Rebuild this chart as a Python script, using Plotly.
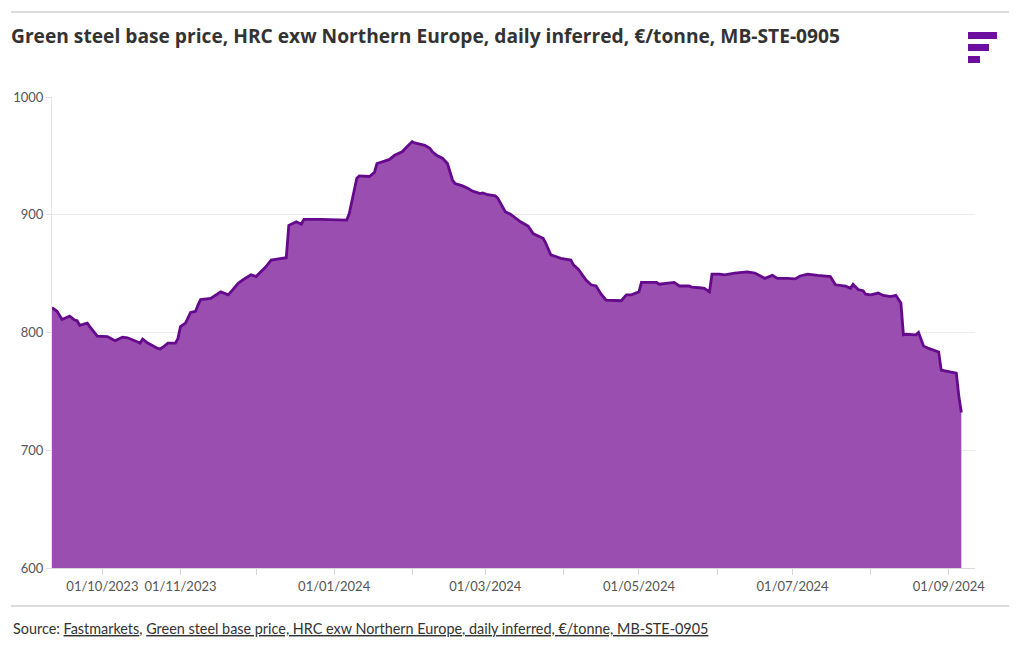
import plotly.graph_objects as go

# ---- data ----
dates = [
    "2023-09-11", "2023-09-13", "2023-09-15", "2023-09-18", "2023-09-20", "2023-09-21",
    "2023-09-22", "2023-09-25", "2023-09-26", "2023-09-29", "2023-10-03", "2023-10-06",
    "2023-10-09", "2023-10-11", "2023-10-15", "2023-10-16", "2023-10-17", "2023-10-19",
    "2023-10-23", "2023-10-24", "2023-10-25", "2023-10-27", "2023-10-30", "2023-10-31",
    "2023-11-01", "2023-11-03", "2023-11-05", "2023-11-07", "2023-11-08", "2023-11-09",
    "2023-11-13", "2023-11-15", "2023-11-17", "2023-11-20", "2023-11-22", "2023-11-24",
    "2023-11-26", "2023-11-28", "2023-11-29", "2023-12-01", "2023-12-03", "2023-12-05",
    "2023-12-07", "2023-12-10", "2023-12-13", "2023-12-14", "2023-12-15", "2023-12-17",
    "2023-12-19", "2023-12-20", "2023-12-27", "2024-01-01", "2024-01-06", "2024-01-07",
    "2024-01-09", "2024-01-10", "2024-01-11", "2024-01-15", "2024-01-17", "2024-01-18",
    "2024-01-21", "2024-01-23", "2024-01-25", "2024-01-28", "2024-01-30", "2024-02-01",
    "2024-02-02", "2024-02-06", "2024-02-08", "2024-02-09", "2024-02-11", "2024-02-13",
    "2024-02-15", "2024-02-17", "2024-02-18", "2024-02-21", "2024-02-23", "2024-02-25",
    "2024-02-28", "2024-02-29", "2024-03-02", "2024-03-05", "2024-03-06", "2024-03-09",
    "2024-03-11", "2024-03-12", "2024-03-15", "2024-03-18", "2024-03-20", "2024-03-22",
    "2024-03-24", "2024-03-25", "2024-03-27", "2024-03-29", "2024-03-31", "2024-04-04",
    "2024-04-05", "2024-04-07", "2024-04-10", "2024-04-12", "2024-04-14", "2024-04-16",
    "2024-04-18", "2024-04-24", "2024-04-26", "2024-04-28", "2024-05-01", "2024-05-02",
    "2024-05-06", "2024-05-08", "2024-05-09", "2024-05-12", "2024-05-15", "2024-05-16",
    "2024-05-17", "2024-05-21", "2024-05-22", "2024-05-25", "2024-05-27", "2024-05-29",
    "2024-05-30", "2024-06-02", "2024-06-04", "2024-06-08", "2024-06-13", "2024-06-16",
    "2024-06-18", "2024-06-20", "2024-06-23", "2024-06-25", "2024-06-29", "2024-07-02",
    "2024-07-04", "2024-07-07", "2024-07-11", "2024-07-16", "2024-07-18", "2024-07-22",
    "2024-07-24", "2024-07-25", "2024-07-27", "2024-07-29", "2024-07-30", "2024-08-01",
    "2024-08-04", "2024-08-06", "2024-08-09", "2024-08-11", "2024-08-13", "2024-08-14",
    "2024-08-15", "2024-08-18", "2024-08-19", "2024-08-20", "2024-08-21", "2024-08-22",
    "2024-08-24", "2024-08-26", "2024-08-28", "2024-08-29", "2024-08-31", "2024-09-03",
    "2024-09-04", "2024-09-05", "2024-09-06",
]
prices = [
    821, 818, 811, 814, 810.5, 810,
    806, 808, 805, 797, 796.5, 793,
    796, 795.5, 792, 791, 794.5, 791,
    786.5, 786, 787.5, 791, 791, 795,
    805, 808, 817, 818, 823.5, 828,
    829, 832, 834.5, 832, 837.5, 842,
    845, 847.5, 849, 847.5, 852, 856,
    861.5, 862.5, 863.5, 891, 892, 894,
    892, 896, 896, 896, 895.5, 901,
    921, 931, 933, 932.5, 936, 943.5,
    945.5, 947, 950.5, 953.5, 958, 962,
    961, 959, 956.5, 953.5, 950, 948,
    943.5, 929.5, 926.5, 924.5, 922.5, 920,
    918, 918.5, 917, 916, 914, 902.5,
    900.5, 899, 894, 890.5, 884, 882,
    880, 876, 866, 864.5, 863, 861.5,
    857.5, 853.5, 844.5, 840.5, 839.5, 832.5,
    827.5, 827, 832, 832, 834.5, 842.5,
    842.5, 842.5, 841, 842, 842.5, 841,
    839.5, 839.5, 838.5, 838, 837.5, 834.5,
    849.5, 849.5, 849, 850.5, 851.5, 850.5,
    848, 846, 848.5, 846, 846, 845.5,
    848, 849.5, 848.5, 847.5, 840.5, 839.5,
    837.5, 841, 836.5, 835.5, 832.5, 832,
    833.5, 831.5, 830.5, 831.5, 825, 798,
    798.5, 798, 798, 800, 795, 788.5,
    786.5, 785, 783.5, 768, 767, 766,
    765.5, 746, 732,
]

tick_dates = ["2023-10-01", "2023-11-01", "2023-12-01", "2024-01-01", "2024-02-01",
              "2024-03-01", "2024-04-01", "2024-05-01", "2024-06-01", "2024-07-01",
              "2024-08-01", "2024-09-01"]
tick_labels = ["01/10/2023", "01/11/2023", "", "01/01/2024", "", "01/03/2024", "",
               "01/05/2024", "", "01/07/2024", "", "01/09/2024"]
y_ticks = [600, 700, 800, 900, 1000]

title_text = "Green steel base price, HRC exw Northern Europe, daily inferred, €/tonne, MB-STE-0905"
source_text = ("Source: <u>Fastmarkets</u>, <u>Green steel base price, HRC exw Northern Europe, "
               "daily inferred, €/tonne, MB-STE-0905</u>")

FONT = "Lato"
LINE = "#650a8c"
FILL = "#9a4fb0"
LOGO = "#6c0f9e"

fig = go.Figure()
fig.add_trace(go.Scatter(
    x=dates, y=prices, mode="lines",
    line=dict(color=LINE, width=2.8),
    fill="tozeroy", fillcolor=FILL,
    hoverinfo="x+y", showlegend=False,
))

shapes = []
# horizontal rules
for yy in (1.1805, -0.0807):
    shapes.append(dict(type="line", xref="paper", yref="paper",
                       x0=-0.0444, x1=1.0369, y0=yy, y1=yy,
                       line=dict(color="#dcdcdc", width=2)))
# logo bars
for x1, y0, y1 in ((1.0238, 1.1231, 1.1380), (1.0152, 1.0977, 1.1125), (1.0054, 1.0722, 1.0870)):
    shapes.append(dict(type="rect", xref="paper", yref="paper",
                       x0=0.9924, x1=x1, y0=y0, y1=y1,
                       fillcolor=LOGO, line=dict(width=0)))

fig.update_layout(
    width=1020, height=650,
    margin=dict(l=52, r=45, t=97, b=82),
    paper_bgcolor="white", plot_bgcolor="white",
    font=dict(family=FONT, color="#666666", size=13),
    title=dict(text="<b>" + title_text + "</b>", x=11 / 1020, xanchor="left",
               y=1 - 36 / 650, yanchor="middle",
               font=dict(family="Open Sans", size=19.2, color="#333333")),
    xaxis=dict(
        type="date", range=["2023-09-11", "2024-09-11 10:00"],
        tickvals=tick_dates, ticktext=tick_labels,
        ticks="outside", ticklen=6, tickcolor="#d8d8d8", tickwidth=1,
        showgrid=False, showline=True, linecolor="#d8d8d8", linewidth=1,
        tickfont=dict(family=FONT, size=13, color="#555555"),
        zeroline=False,
    ),
    yaxis=dict(
        range=[600, 1000], tickvals=y_ticks,
        ticks="outside", ticklen=5, tickcolor="#e0e0e0",
        showgrid=True, gridcolor="#ececec", gridwidth=1,
        showline=True, linecolor="#e6e6e6", linewidth=1,
        tickfont=dict(family=FONT, size=13, color="#555555"),
        zeroline=False,
    ),
    shapes=shapes,
    annotations=[dict(
        text=source_text, xref="paper", yref="paper",
        x=-0.0444, y=-0.1295, xanchor="left", yanchor="middle",
        showarrow=False, font=dict(family=FONT, size=14.4, color="#333333"),
    )],
)

fig.write_html("out.html")
